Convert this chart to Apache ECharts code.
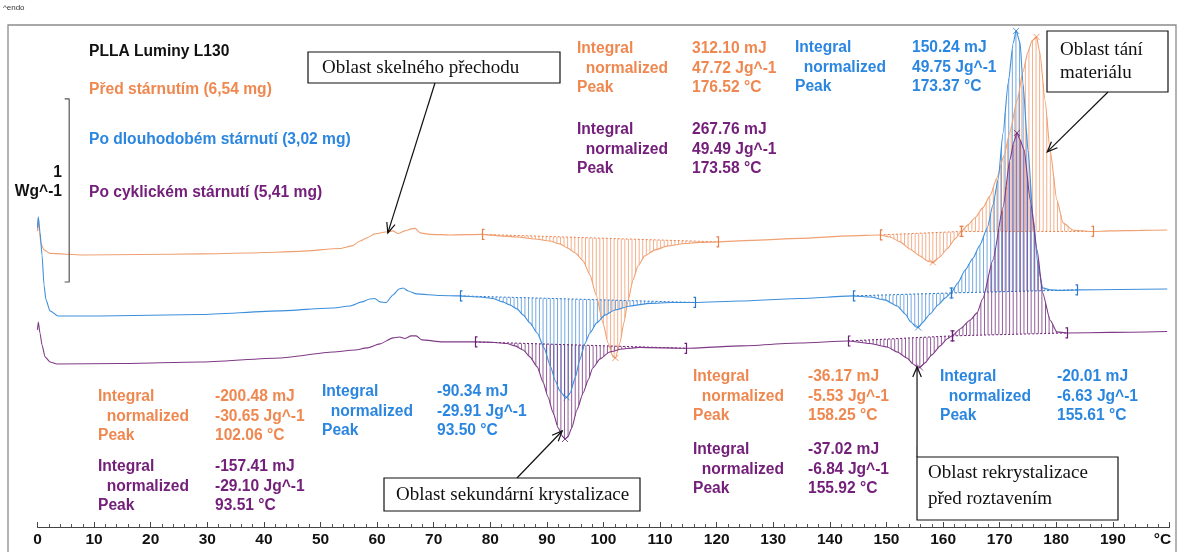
<!DOCTYPE html>
<html><head><meta charset="utf-8">
<script src="https://cdn.jsdelivr.net/npm/echarts@6/dist/echarts.min.js"></script>
<style>html,body{margin:0;padding:0;background:#fff}#c{width:1178px;height:552px}</style>
</head><body><div id="c"></div>
<script>
// ---------------- DATA (temperature °C, heat flow W/g incl. display offset) ----------------
const curveBefore = [[0.0,1.62],[0.14,1.693],[0.35,1.616],[0.62,1.551],[1.15,1.518],[2.21,1.499],[8.0,1.490],[18.1,1.493],[28.7,1.496],[37.5,1.501],[46.4,1.510],[53.4,1.526],[55.6,1.540],[57.0,1.567],[58.2,1.584],[59.6,1.606],[61.9,1.617],[62.8,1.622],[63.7,1.608],[64.9,1.622],[66.0,1.633],[66.7,1.636],[67.6,1.611],[69.3,1.603],[72.9,1.600],[78.5,1.603],[81.7,1.595],[84.7,1.589],[87.9,1.578],[90.5,1.567],[92.3,1.551],[93.6,1.529],[95.0,1.501],[96.4,1.458],[97.6,1.381],[98.7,1.271],[99.9,1.118],[100.8,1.008],[101.7,0.931],[102.1,0.926],[102.9,1.008],[103.6,1.118],[104.3,1.233],[105.2,1.353],[106.1,1.430],[107.3,1.485],[109.1,1.518],[111.4,1.540],[114.4,1.553],[117.0,1.559],[120.2,1.562],[125.9,1.570],[134.7,1.581],[143.5,1.595],[148.8,1.600],[150.6,1.589],[152.4,1.562],[154.1,1.523],[155.9,1.485],[157.2,1.458],[158.2,1.449],[159.4,1.479],[160.7,1.523],[162.1,1.578],[163.2,1.619],[164.4,1.655],[165.6,1.693],[167.0,1.748],[168.3,1.814],[169.5,1.912],[170.8,2.038],[171.8,2.164],[173.1,2.340],[174.1,2.493],[175.0,2.603],[175.7,2.663],[176.5,2.685],[177.1,2.597],[178.0,2.340],[178.9,2.066],[180.1,1.792],[181.2,1.666],[182.9,1.627],[184.6,1.622],[186.5,1.619],[189.5,1.622],[194.8,1.625],[199.6,1.627]];
const curveLong = [[0.0,1.64],[0.14,1.699],[0.44,1.616],[0.80,1.490],[1.15,1.326],[1.50,1.244],[2.21,1.184],[3.62,1.156],[11.0,1.156],[28.7,1.164],[42.8,1.184],[52.2,1.200],[55.2,1.211],[57.3,1.233],[58.7,1.249],[59.6,1.252],[60.5,1.233],[61.6,1.230],[62.8,1.271],[63.9,1.304],[64.6,1.309],[65.5,1.293],[67.0,1.277],[71.1,1.268],[74.6,1.266],[78.2,1.260],[80.5,1.252],[82.2,1.233],[83.5,1.216],[84.7,1.195],[85.8,1.162],[87.0,1.118],[88.3,1.063],[89.5,0.981],[90.6,0.882],[91.5,0.800],[92.3,0.745],[93.2,0.712],[93.5,0.710],[94.1,0.734],[95.0,0.817],[95.8,0.915],[96.7,1.003],[97.6,1.063],[98.8,1.118],[100.3,1.162],[102.0,1.189],[104.7,1.211],[108.2,1.225],[112.1,1.230],[116.2,1.230],[124.1,1.238],[134.7,1.252],[144.1,1.266],[147.1,1.260],[149.7,1.244],[151.9,1.211],[153.3,1.167],[154.3,1.123],[155.2,1.096],[155.6,1.093],[156.3,1.118],[157.7,1.167],[159.1,1.216],[160.4,1.255],[161.4,1.282],[162.6,1.337],[163.9,1.408],[165.3,1.474],[166.5,1.545],[167.8,1.638],[168.8,1.764],[169.7,1.901],[170.6,2.159],[171.5,2.433],[172.4,2.652],[172.9,2.718],[173.6,2.652],[174.1,2.433],[175.0,2.066],[175.9,1.699],[176.8,1.425],[177.6,1.310],[178.9,1.299],[180.7,1.296],[183.7,1.299],[191.2,1.301],[199.6,1.304]];
const curveCyclic = [[0.0,1.08],[0.14,1.123],[0.44,1.063],[0.80,0.997],[1.33,0.932],[2.21,0.904],[3.45,0.893],[14.6,0.896],[28.7,0.904],[42.8,0.926],[52.2,0.959],[56.1,0.970],[58.2,0.981],[60.5,1.003],[62.8,1.036],[64.0,1.041],[64.9,1.033],[66.0,1.047],[66.9,1.047],[67.9,1.025],[71.6,1.014],[77.3,1.014],[80.8,1.011],[82.9,1.005],[84.4,0.992],[85.8,0.970],[87.0,0.932],[88.3,0.877],[89.3,0.795],[90.2,0.712],[91.1,0.625],[92.0,0.543],[92.7,0.499],[93.2,0.482],[93.7,0.493],[94.4,0.543],[95.3,0.641],[96.4,0.734],[97.3,0.806],[98.1,0.871],[99.4,0.921],[101.1,0.959],[103.3,0.975],[106.4,0.984],[110.9,0.981],[114.6,0.979],[124.1,0.992],[134.7,1.008],[143.2,1.019],[147.1,1.005],[150.1,0.986],[151.9,0.959],[153.6,0.926],[154.7,0.893],[155.4,0.877],[155.9,0.874],[156.8,0.899],[158.0,0.943],[159.5,0.992],[160.7,1.030],[161.6,1.047],[163.0,1.085],[164.8,1.134],[166.0,1.173],[167.0,1.250],[168.8,1.463],[170.6,1.753],[171.8,2.011],[172.5,2.110],[173.05,2.159],[173.6,2.121],[174.3,2.066],[175.4,1.792],[176.6,1.518],[177.6,1.282],[178.9,1.134],[180.1,1.069],[181.9,1.063],[189.5,1.066],[199.6,1.071]];

// integration limits: [T start, baseline start, T end, baseline end]
const regionsBefore = [[78.5,1.603,120.2,1.562],[148.8,1.600,163.2,1.619],[163.2,1.619,186.5,1.619]];
const regionsLong   = [[74.6,1.266,116.2,1.230],[144.1,1.266,161.4,1.282],[161.4,1.282,183.7,1.299]];
const regionsCyclic = [[77.3,1.014,114.6,0.979],[143.2,1.019,161.6,1.047],[161.6,1.047,181.9,1.063]];

// peak markers [T, value]
const peaksBefore = [[102.1,0.926],[158.2,1.449],[176.5,2.685]];
const peaksLong   = [[93.5,0.710],[155.6,1.093],[172.9,2.718]];
const peaksCyclic = [[93.2,0.482],[155.9,0.874],[173.05,2.159]];

// evaluation results: [integral, normalized, peak] for cold cryst., recryst., melting
const resultsBefore = [['-200.48 mJ','-30.65 Jg^-1','102.06 °C'],['-36.17 mJ','-5.53 Jg^-1','158.25 °C'],['312.10 mJ','47.72 Jg^-1','176.52 °C']];
const resultsLong   = [['-90.34 mJ','-29.91 Jg^-1','93.50 °C'],['-20.01 mJ','-6.63 Jg^-1','155.61 °C'],['150.24 mJ','49.75 Jg^-1','173.37 °C']];
const resultsCyclic = [['-157.41 mJ','-29.10 Jg^-1','93.51 °C'],['-37.02 mJ','-6.84 Jg^-1','155.92 °C'],['267.76 mJ','49.49 Jg^-1','173.58 °C']];
const resultLabels = ['Integral', '  normalized', 'Peak'];

const sampleNames = ['Před stárnutím (6,54 mg)', 'Po dlouhodobém stárnutí (3,02 mg)', 'Po cyklickém stárnutí (5,41 mg)'];
const chartTitle = 'PLLA Luminy L130';
const xTicks = [0,10,20,30,40,50,60,70,80,90,100,110,120,130,140,150,160,170,180,190,200];
const xUnit = '°C';
const scaleBarValue = [1.342, 2.345]; // 1 W/g scale bar (heat flow)
const scaleBarT = 5.6;
const annotationTexts = [['Oblast skelného přechodu'],['Oblast tání','materiálu'],['Oblast sekundární krystalizace'],['Oblast rekrystalizace','před roztavením']];
const annotationTips = [[61.9,1.611],[178.4,2.055],[92.7,0.526],[155.4,0.877]];

// ---------------- STYLE / LAYOUT ----------------
const C = {
  before: {line:'#F0A072', hatch:'rgba(240,150,100,0.75)', text:'#EF8850', mark:'#E8804A'},
  long:   {line:'#3E8FDB', hatch:'rgba(70,140,215,0.75)', text:'#2B86E0', mark:'#2A78CC'},
  cyclic: {line:'#7E3A86', hatch:'rgba(110,40,120,0.75)', text:'#74207A', mark:'#6A1F72'}
};
const FONT = '"Liberation Sans", Arial, sans-serif';
const SERIF = '"Liberation Serif", "Times New Roman", serif';
const FS = 15.6;
const resultLayout = {
  before: [[98,215,397],[693,808,377],[577,692,49]],
  long:   [[322,437,392],[940,1057,377],[795,912,48]],
  cyclic: [[98,215,467],[693,808,450],[577,692,130]]
};
const annotationLayout = [
  {box:[308,52,252,31], from:[435,83], textX:322, textY:[68]},
  {box:[1047,31,121,61], from:[1108,92], textX:1060, textY:[50,73]},
  {box:[384,478,256,33], from:[517,478], textX:396, textY:[495]},
  {box:[917,457,201,63], from:[917,457], textX:928, textY:[473,499]}
];

function interp(curve, t) {
  for (let i = 1; i < curve.length; i++) {
    if (curve[i][0] >= t) {
      const a = curve[i-1], b = curve[i];
      return a[1] + (b[1]-a[1]) * (t - a[0]) / (b[0] - a[0]);
    }
  }
  return curve[curve.length-1][1];
}

function hatchSeries(curve, regions, col) {
  return {
    type: 'custom', z: 2, silent: true,
    data: regions,
    encode: {x: [0, 2], y: [1, 3]},
    renderItem: function (params, api) {
      const t0 = api.value(0), v0 = api.value(1), t1 = api.value(2), v1 = api.value(3);
      const pxPerT = api.size([1, 0])[0];
      const n = Math.round((t1 - t0) * pxPerT / 3.6);
      const children = [];
      for (let i = 1; i < n; i++) {
        const t = t0 + (t1 - t0) * i / n;
        const p1 = api.coord([t, interp(curve, t)]);
        const p2 = api.coord([t, v0 + (v1 - v0) * (t - t0) / (t1 - t0)]);
        children.push({type: 'line', shape: {x1: p1[0], y1: p1[1], x2: p2[0], y2: p2[1]}, style: {stroke: col.hatch, lineWidth: 1}});
      }
      const a = api.coord([t0, v0]), b = api.coord([t1, v1]);
      children.push({type: 'line', shape: {x1: a[0], y1: a[1], x2: b[0], y2: b[1]}, style: {stroke: col.mark, lineWidth: 1, lineDash: [2, 2]}});
      return {type: 'group', children: children};
    }
  };
}

function bracketSeries(regions, col) {
  return {
    type: 'custom', z: 4, silent: true,
    data: regions,
    encode: {x: [0, 2], y: [1, 3]},
    renderItem: function (params, api) {
      const ends = [[api.value(0), api.value(1), 1], [api.value(2), api.value(3), -1]];
      const children = [];
      ends.forEach(function (e) {
        const p = api.coord([e[0], e[1]]);
        const x = Math.round(p[0]) + 0.5, y = p[1];
        children.push({type: 'polyline', shape: {points: [[x + 2*e[2], y - 5], [x, y - 5], [x, y + 5], [x + 2*e[2], y + 5]]}, style: {stroke: col.mark, lineWidth: 1.2, fill: null}});
      });
      return {type: 'group', children: children};
    }
  };
}

function curveSeries(curve, col) {
  return {type: 'line', data: curve, showSymbol: false, smooth: 0.2, smoothMonotone: 'x', z: 3, silent: true,
    lineStyle: {color: col.line, width: 1.1}, itemStyle: {color: col.line}};
}
function peakSeries(peaks, col) {
  return {type: 'scatter', data: peaks, z: 5, silent: true, symbol: 'path://M0,0L10,10M10,0L0,10', symbolSize: 6,
    itemStyle: {color: 'none', borderColor: col.mark, borderWidth: 1}};
}

const chart = echarts.init(document.getElementById('c'));
const option = {
  animation: false,
  backgroundColor: '#fff',
  grid: {left: 37.5, right: 8.5, top: 25, bottom: 25, containLabel: false, outerBoundsMode: 'none'},
  xAxis: {
    type: 'value', min: xTicks[0], max: xTicks[xTicks.length-1], interval: 10,
    axisLine: {show: true, onZero: false, lineStyle: {color: '#444', width: 1}},
    axisTick: {show: true, inside: true, length: 5, lineStyle: {color: '#444'}},
    minorTick: {show: true, splitNumber: 5, length: 3, lineStyle: {color: '#555'}},
    splitLine: {show: false},
    axisLabel: {margin: 5, color: '#111', fontSize: 15.5, fontWeight: 'bold', fontFamily: FONT,
      formatter: function (v) { return v === xTicks[xTicks.length-1] ? '{u|' + xUnit + '}' : String(v); },
      rich: {u: {fontSize: 15.5, fontWeight: 'bold', fontFamily: FONT, color: '#111', padding: [0, 14, 0, 0]}}}
  },
  yAxis: {type: 'value', min: 0, max: 2.75, show: false},
  series: [
    hatchSeries(curveBefore, regionsBefore, C.before),
    hatchSeries(curveLong, regionsLong, C.long),
    hatchSeries(curveCyclic, regionsCyclic, C.cyclic),
    curveSeries(curveBefore, C.before),
    curveSeries(curveLong, C.long),
    curveSeries(curveCyclic, C.cyclic),
    bracketSeries(regionsBefore, C.before),
    bracketSeries(regionsLong, C.long),
    bracketSeries(regionsCyclic, C.cyclic),
    peakSeries(peaksBefore, C.before),
    peakSeries(peaksLong, C.long),
    peakSeries(peaksCyclic, C.cyclic),
    {type: 'line', silent: true, showSymbol: false, z: 3,
     data: [[scaleBarT - 0.8, scaleBarValue[1]], [scaleBarT, scaleBarValue[1]], [scaleBarT, scaleBarValue[0]], [scaleBarT - 0.8, scaleBarValue[0]]],
     lineStyle: {color: '#555', width: 1.2}}
  ]
};
chart.setOption(option);

// ---------------- TEXT / ANNOTATIONS ----------------
const g = [];
g.push({type: 'rect', shape: {x: 8, y: 25, width: 1168, height: 560}, style: {fill: null, stroke: '#8c8c8c', lineWidth: 1.3}, z: 0, silent: true});
function txt(text, x, y, fill, size, weight, family, align, z) {
  g.push({type: 'text', silent: true, z: z || 10, style: {text: text, x: x, y: y, fill: fill, fontSize: size, fontWeight: weight || 'bold', fontFamily: family || FONT, textAlign: align || 'left', textVerticalAlign: 'middle'}});
}
txt('^endo', 3, 8, '#333', 8, 'normal');
txt(chartTitle, 89, 52, '#111', FS);
txt(sampleNames[0], 89, 90, C.before.text, FS);
txt(sampleNames[1], 89, 140, C.long.text, FS);
txt(sampleNames[2], 89, 193, C.cyclic.text, FS);
txt('1', 62, 173, '#111', FS, 'bold', FONT, 'right');
txt('Wg^-1', 62, 192, '#111', FS, 'bold', FONT, 'right');

function block(results, layout, col) {
  results.forEach(function (r, i) {
    const L = layout[i];
    for (let k = 0; k < 3; k++) {
      txt(resultLabels[k], L[0], L[2] + k * 19.5, col.text, FS);
      txt(r[k], L[1], L[2] + k * 19.5, col.text, FS);
    }
  });
}
block(resultsBefore, resultLayout.before, C.before);
block(resultsLong, resultLayout.long, C.long);
block(resultsCyclic, resultLayout.cyclic, C.cyclic);

annotationTexts.forEach(function (lines, i) {
  const L = annotationLayout[i];
  g.push({type: 'rect', silent: true, z: 11, shape: {x: L.box[0], y: L.box[1], width: L.box[2], height: L.box[3]}, style: {fill: '#fff', stroke: '#111', lineWidth: 1.2}});
  lines.forEach(function (s, k) { txt(s, L.textX, L.textY[k], '#111', 19, 'normal', SERIF, 'left', 12); });
  const tip = chart.convertToPixel({gridIndex: 0}, annotationTips[i]);
  const fx = L.from[0], fy = L.from[1];
  const ang = Math.atan2(tip[1] - fy, tip[0] - fx);
  const h = 11, sp = 0.4;
  g.push({type: 'line', silent: true, z: 11, shape: {x1: fx, y1: fy, x2: tip[0], y2: tip[1]}, style: {stroke: '#111', lineWidth: 1.2}});
  g.push({type: 'polyline', silent: true, z: 11, shape: {points: [
    [tip[0] - h * Math.cos(ang - sp), tip[1] - h * Math.sin(ang - sp)], [tip[0], tip[1]],
    [tip[0] - h * Math.cos(ang + sp), tip[1] - h * Math.sin(ang + sp)]]}, style: {stroke: '#111', lineWidth: 1.2, fill: null}});
});
chart.setOption({graphic: g});
</script></body></html>
